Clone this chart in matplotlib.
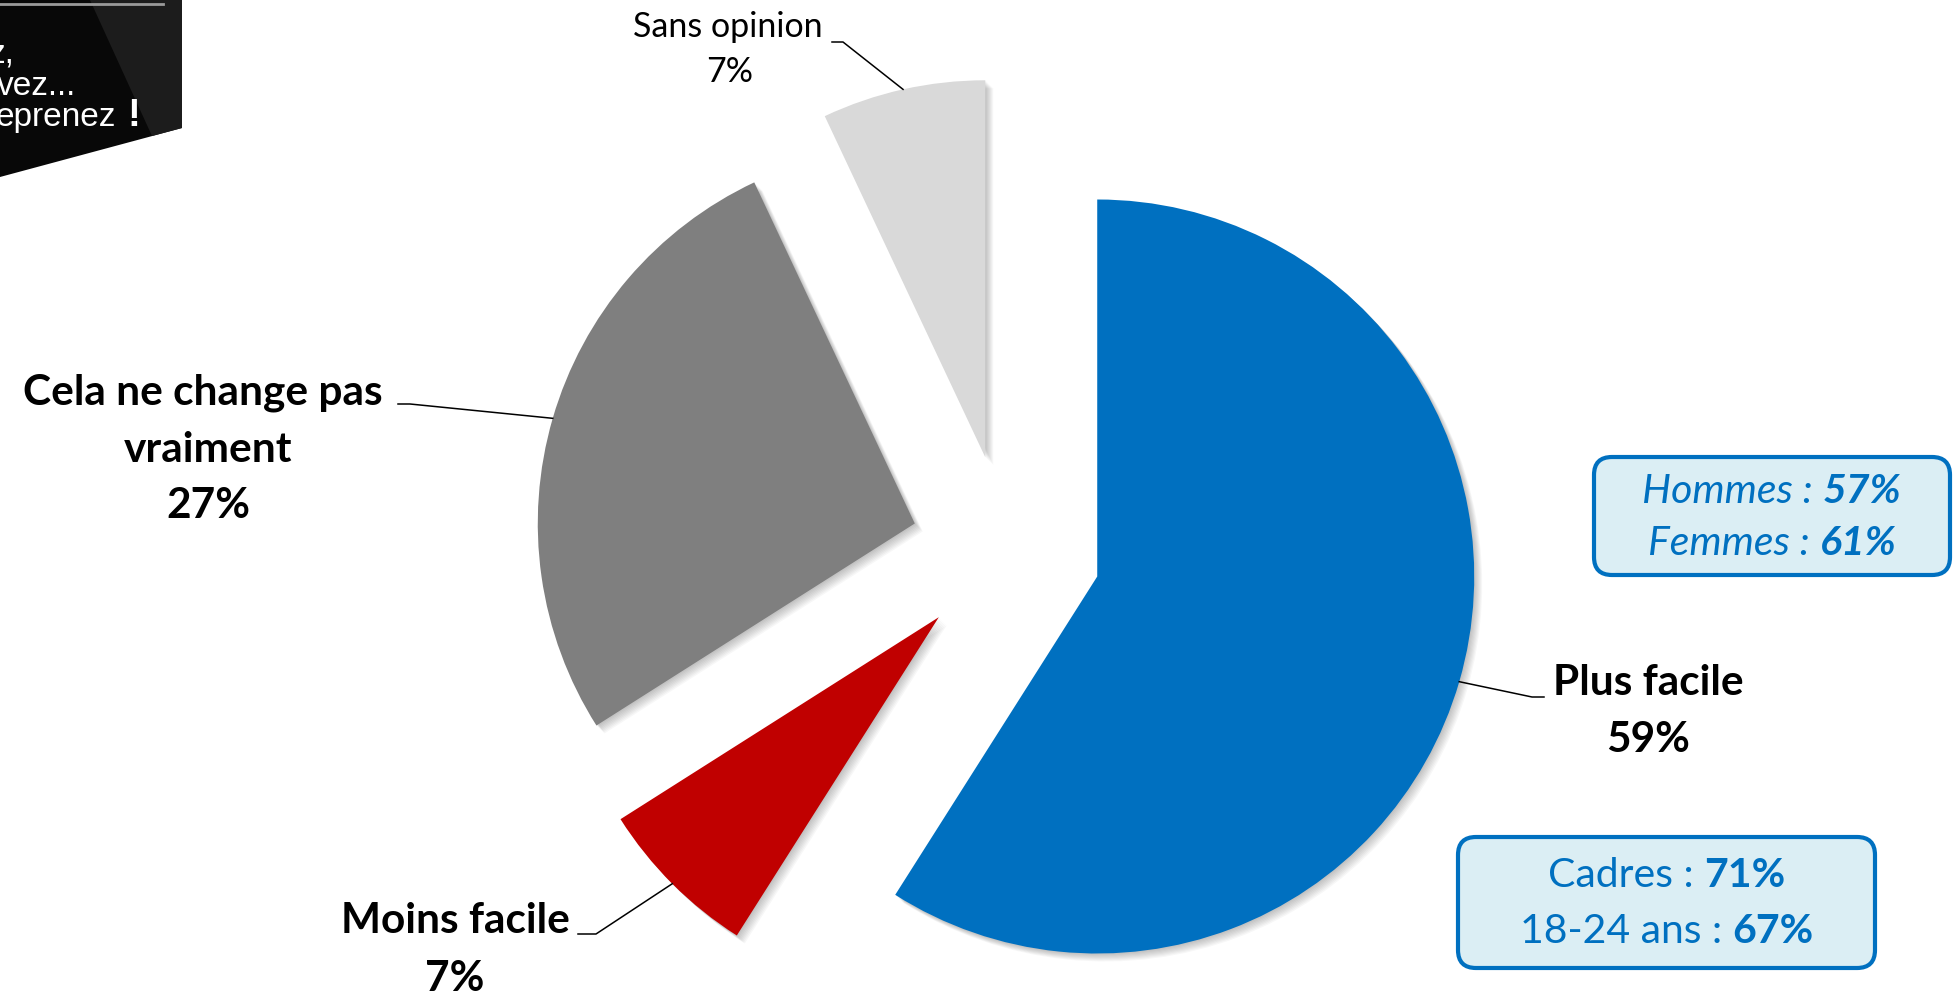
import numpy as np
import matplotlib
matplotlib.use("Agg")
import matplotlib.pyplot as plt
from matplotlib.patches import Wedge, FancyBboxPatch, Polygon

# Données du camembert
categories = ["Plus facile", "Moins facile", "Cela ne change pas\nvraiment", "Sans opinion"]
valeurs = [59, 7, 27, 7]
etiquettes_pct = ["59%", "7%", "27%", "7%"]
couleurs = ["#0070C0", "#C00000", "#7F7F7F", "#D9D9D9"]

# Encadrés
encadre_sexe = [("Hommes :", "57%"), ("Femmes :", "61%")]
encadre_profil = [("Cadres :", "71%"), ("18-24 ans :", "67%")]

W, H = 1956, 1002
plt.rcParams['font.family'] = ['Lato', 'DejaVu Sans']

fig = plt.figure(figsize=(W / 100, H / 100), dpi=100)
ax = fig.add_axes([0, 0, 1, 1])

# axe y inversé -> coordonnées type image ; sens horaire depuis midi
R = 377
wedges, _ = ax.pie(valeurs, colors=couleurs, startangle=-90, counterclock=True,
                   radius=R, center=(1006, 550), explode=[95] * 4,
                   wedgeprops=dict(linewidth=0, zorder=3))
ax.set_xlim(0, W)
ax.set_ylim(H, 0)
ax.set_aspect('equal')
ax.axis('off')

# ombre portée douce
for w in wedges:
    for k in range(1, 9):
        ax.add_patch(Wedge((w.center[0] + k, w.center[1] + k), w.r, w.theta1, w.theta2,
                           facecolor='black', alpha=0.03, lw=0, zorder=2))

# lignes de rappel et étiquettes
coudes = [[(1532, 697), (1544, 697)],
          [(596, 934), (578, 934)],
          [(410, 404), (398, 404)],
          [(843, 42), (832, 42)]]
for w, pts in zip(wedges, coudes):
    mid = np.deg2rad((w.theta1 + w.theta2) / 2)
    px = w.center[0] + w.r * np.cos(mid)
    py = w.center[1] + w.r * np.sin(mid)
    xs = [px] + [p[0] for p in pts]
    ys = [py] + [p[1] for p in pts]
    ax.plot(xs, ys, color='black', lw=1.1, zorder=4)

gras = dict(fontsize=30.5, fontweight='bold', color='black', ha='center', va='baseline')
ax.text(1648, 695, categories[0], **gras)
ax.text(1648, 752, etiquettes_pct[0], **gras)
ax.text(455, 933, categories[1], **gras)
ax.text(455, 991, etiquettes_pct[1], **gras)
lignes = categories[2].split("\n")
ax.text(203, 405, lignes[0], **gras)
ax.text(208, 462, lignes[1], **gras)
ax.text(208, 518, etiquettes_pct[2], **gras)
ax.text(728, 37, categories[3], fontsize=24.5, color='black', ha='center', va='baseline')
ax.text(730, 82, etiquettes_pct[3], fontsize=24.5, color='black', ha='center', va='baseline')

# encadrés bleus
renderer = fig.canvas.get_renderer()
FS_BOX = 29.5


def texte_deux_parties(xc, yb, debut, fin, style):
    t1 = ax.text(0, yb, debut, fontsize=FS_BOX, color='#0070C0', style=style,
                 va='baseline', ha='left', zorder=5)
    t2 = ax.text(0, yb, fin, fontsize=FS_BOX, color='#0070C0', style=style, fontweight='bold',
                 va='baseline', ha='left', zorder=5)
    w1 = t1.get_window_extent(renderer).width
    w2 = t2.get_window_extent(renderer).width
    gap = FS_BOX * 100 / 72 * 0.25
    x0 = xc - (w1 + gap + w2) / 2
    t1.set_x(x0)
    t2.set_x(x0 + w1 + gap)


ax.add_patch(FancyBboxPatch((1594, 457), 356, 118, boxstyle="round,pad=0,rounding_size=18",
                            fc='#DBEEF4', ec='#0070C0', lw=3, zorder=3))
for (a, b), yb in zip(encadre_sexe, [503, 555]):
    texte_deux_parties(1772, yb, a, b, 'italic')

ax.add_patch(FancyBboxPatch((1458, 837), 417, 131, boxstyle="round,pad=0,rounding_size=18",
                            fc='#DBEEF4', ec='#0070C0', lw=3, zorder=3))
for (a, b), yb in zip(encadre_profil, [887, 943]):
    texte_deux_parties(1667, yb, a, b, 'normal')

# logo coupé en haut à gauche
ax.add_patch(Polygon([(0, 0), (182, 0), (182, 128), (0, 177)], closed=True, fc='#080808', lw=0))
ax.add_patch(Polygon([(90, 0), (182, 0), (182, 128), (152, 136)], closed=True, fc='#1c1c1c', lw=0))
ax.plot([0, 163], [4, 4], color='#9a9a9a', lw=2)
logo = dict(color='white', fontsize=24, ha='right', va='baseline', family='Liberation Sans')
ax.text(15, 62, "z,", **logo)
ax.text(76, 95, "vez...", **logo)
ax.text(116, 126, "eprenez", **logo)
ax.text(140, 126, "!", color='white', fontsize=28, ha='right', va='baseline',
        family='Liberation Sans', fontweight='bold')

fig.savefig("out.png", dpi=100, facecolor='white')
